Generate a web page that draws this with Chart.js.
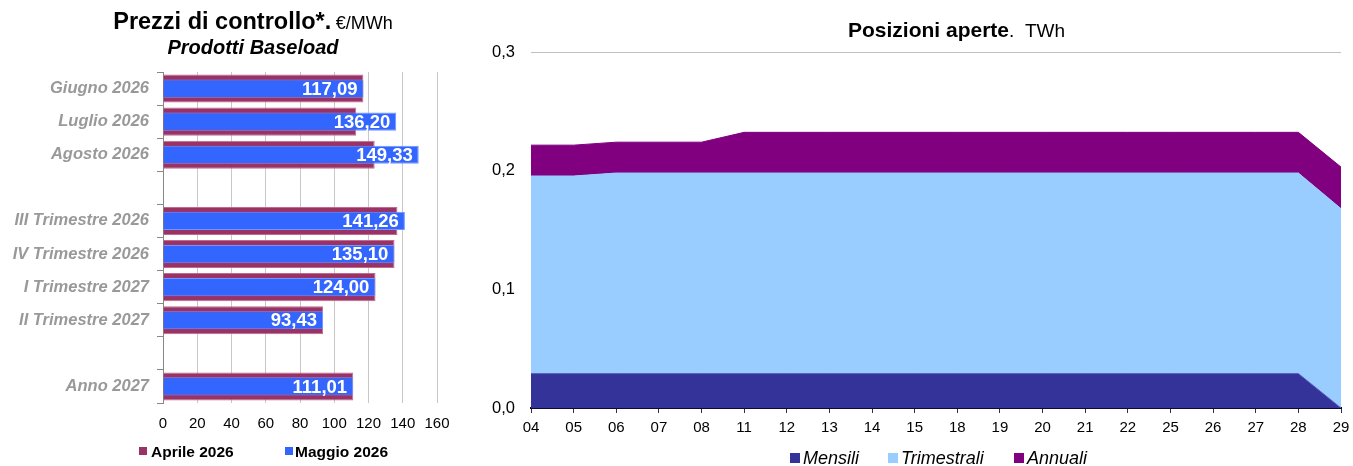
<!DOCTYPE html>
<html><head><meta charset="utf-8">
<script src="https://cdn.jsdelivr.net/npm/chart.js@4.4.1/dist/chart.umd.min.js"></script>
<style>
body{margin:0;width:1353px;height:466px;background:#fff;position:relative;overflow:hidden;font-family:"Liberation Sans",Arial,sans-serif;}
#c1wrap{position:absolute;left:0;top:0;width:460px;height:466px;}
#c2wrap{position:absolute;left:460px;top:0;width:893px;height:466px;}
.t{position:absolute;white-space:nowrap;line-height:1;color:#000;}
.sw{position:absolute;}
.lt{position:absolute;white-space:nowrap;line-height:1;color:#000;}
</style></head><body>
<div id="c1wrap"><canvas id="c1"></canvas></div>
<div id="c2wrap"><canvas id="c2"></canvas></div>

<div class="t" style="left:253px;top:10px;transform:translateX(-50%);"><span style="font-weight:bold;font-size:23.5px;">Prezzi di controllo*.</span> <span style="font-size:18px;">€/MWh</span></div>
<div class="t" style="left:253px;top:37px;transform:translateX(-50%);font-weight:bold;font-style:italic;font-size:20px;">Prodotti Baseload</div>
<div class="t" style="left:848px;top:19px;"><span style="font-weight:bold;font-size:21px;">Posizioni aperte</span><span style="font-size:19px;">.&nbsp;&nbsp;TWh</span></div>

<div class="sw" style="left:139px;top:447px;width:8px;height:8px;background:#993366;"></div>
<div class="lt" style="left:151px;top:444px;font-weight:bold;font-size:15.5px;">Aprile 2026</div>
<div class="sw" style="left:285px;top:447px;width:8px;height:8px;background:#3366ff;"></div>
<div class="lt" style="left:295px;top:444px;font-weight:bold;font-size:15.5px;">Maggio 2026</div>

<div class="sw" style="left:790px;top:453px;width:10px;height:10px;background:#333399;"></div>
<div class="lt" style="left:803px;top:449px;font-style:italic;font-size:18px;">Mensili</div>
<div class="sw" style="left:888px;top:453px;width:10px;height:10px;background:#99ccff;"></div>
<div class="lt" style="left:901px;top:449px;font-style:italic;font-size:18px;">Trimestrali</div>
<div class="sw" style="left:1014px;top:453px;width:10px;height:10px;background:#800080;"></div>
<div class="lt" style="left:1027px;top:449px;font-style:italic;font-size:18px;">Annuali</div>

<script>
// ---- Left chart data ----
const leftCategories = ['Giugno 2026','Luglio 2026','Agosto 2026','','III Trimestre 2026','IV Trimestre 2026','I Trimestre 2027','II Trimestre 2027','','Anno 2027'];
const aprile2026 = [117.0, 112.8, 123.6, null, 136.9, 135.2, 124.1, 93.5, null, 111.1];
const maggio2026 = [117.09, 136.20, 149.33, null, 141.26, 135.10, 124.00, 93.43, null, 111.01];
const priceTickMin = 0, priceTickMax = 160, priceTickStep = 20;

// ---- Right chart data ----
const dates = ['04','05','06','07','08','11','12','13','14','15','18','19','20','21','22','25','26','27','28','29'];
const mensili     = [0.029,0.029,0.029,0.029,0.029,0.029,0.029,0.029,0.029,0.029,0.029,0.029,0.029,0.029,0.029,0.029,0.029,0.029,0.029,0.000];
const trimestrali = [0.1665,0.1665,0.169,0.169,0.169,0.169,0.169,0.169,0.169,0.169,0.169,0.169,0.169,0.169,0.169,0.169,0.169,0.169,0.169,0.168];
const annuali     = [0.026,0.026,0.026,0.026,0.026,0.0343,0.0343,0.0343,0.0343,0.0343,0.0343,0.0343,0.0343,0.0343,0.0343,0.0343,0.0343,0.0343,0.0343,0.035];
const posTickMin = 0, posTickMax = 0.3, posTickStep = 0.1;

const FONT = '"Liberation Sans", Arial, sans-serif';
Chart.defaults.font.family = FONT;
Chart.defaults.animation = false;

const fmtIt = (v, d) => Number(v).toFixed(d).replace('.', ',');

const valueLabels = {
  id: 'valueLabels',
  afterDatasetsDraw(chart) {
    const meta = chart.getDatasetMeta(1);
    const ctx = chart.ctx;
    ctx.save();
    ctx.font = 'bold 18.5px ' + FONT;
    ctx.fillStyle = '#ffffff';
    ctx.textAlign = 'right';
    ctx.textBaseline = 'middle';
    meta.data.forEach((bar, i) => {
      const v = chart.data.datasets[1].data[i];
      if (v === null || v === undefined) return;
      ctx.fillText(fmtIt(v, 2), bar.x - 6, bar.y + 1);
    });
    ctx.restore();
  }
};

new Chart(document.getElementById('c1'), {
  type: 'bar',
  data: {
    labels: leftCategories,
    datasets: [
      { label: 'Aprile 2026', data: aprile2026, backgroundColor: '#993366', borderColor: '#c06a92', borderWidth: 1,
        barPercentage: 0.85, categoryPercentage: 1, grouped: false, order: 2 },
      { label: 'Maggio 2026', data: maggio2026, backgroundColor: '#3366ff', borderColor: '#7395ff', borderWidth: 1,
        barPercentage: 0.55, categoryPercentage: 1, grouped: false, order: 1 }
    ]
  },
  options: {
    indexAxis: 'y',
    responsive: true,
    maintainAspectRatio: false,
    layout: { padding: { left: 0, right: 23, top: 72, bottom: 33 } },
    plugins: { legend: { display: false }, tooltip: { enabled: false }, title: { display: false } },
    scales: {
      x: {
        type: 'linear', min: priceTickMin, max: priceTickMax,
        ticks: { stepSize: priceTickStep, color: '#000', font: { size: 15, lineHeight: 1.6 }, padding: 9 },
        grid: { color: '#c8c8c8', drawTicks: false },
        border: { display: false },
        afterFit(s) { s.height = 30; }
      },
      y: {
        type: 'category',
        ticks: { color: '#999999', font: { size: 16.5, weight: 'bold', style: 'italic' }, padding: 8, autoSkip: false },
        grid: { drawOnChartArea: false, offset: true, tickLength: 6, color: '#888' },
        border: { color: '#888' },
        afterFit(s) { s.width = 163; }
      }
    }
  },
  plugins: [valueLabels]
});

new Chart(document.getElementById('c2'), {
  type: 'line',
  data: {
    labels: dates,
    datasets: [
      { label: 'Mensili', data: mensili, backgroundColor: '#333399', borderColor: '#5b5bc0', borderWidth: 1, fill: 'origin', pointRadius: 0, tension: 0 },
      { label: 'Trimestrali', data: trimestrali, backgroundColor: '#99ccff', borderColor: '#99ccff', borderWidth: 1, fill: '-1', pointRadius: 0, tension: 0 },
      { label: 'Annuali', data: annuali, backgroundColor: '#800080', borderColor: '#800080', borderWidth: 1, fill: '-1', pointRadius: 0, tension: 0 }
    ]
  },
  options: {
    responsive: true,
    maintainAspectRatio: false,
    layout: { padding: { left: 0, right: 12, top: 52, bottom: 28 } },
    plugins: { legend: { display: false }, tooltip: { enabled: false } },
    scales: {
      x: {
        type: 'category', offset: false,
        ticks: { color: '#000', font: { size: 15, lineHeight: 1.6 }, padding: 3, autoSkip: false, maxRotation: 0 },
        grid: { drawOnChartArea: false, tickLength: 5, color: '#333' },
        border: { color: '#0a0a3a', width: 2 },
        afterFit(s) { s.height = 30; }
      },
      y: {
        stacked: true, min: posTickMin, max: posTickMax,
        ticks: { stepSize: posTickStep, color: '#000', font: { size: 16.5 }, padding: 16, callback: v => fmtIt(v, 1) },
        grid: { color: '#c0c0c0', drawTicks: false },
        border: { display: false },
        afterFit(s) { s.width = 71; }
      }
    }
  }
});
</script>
</body></html>
